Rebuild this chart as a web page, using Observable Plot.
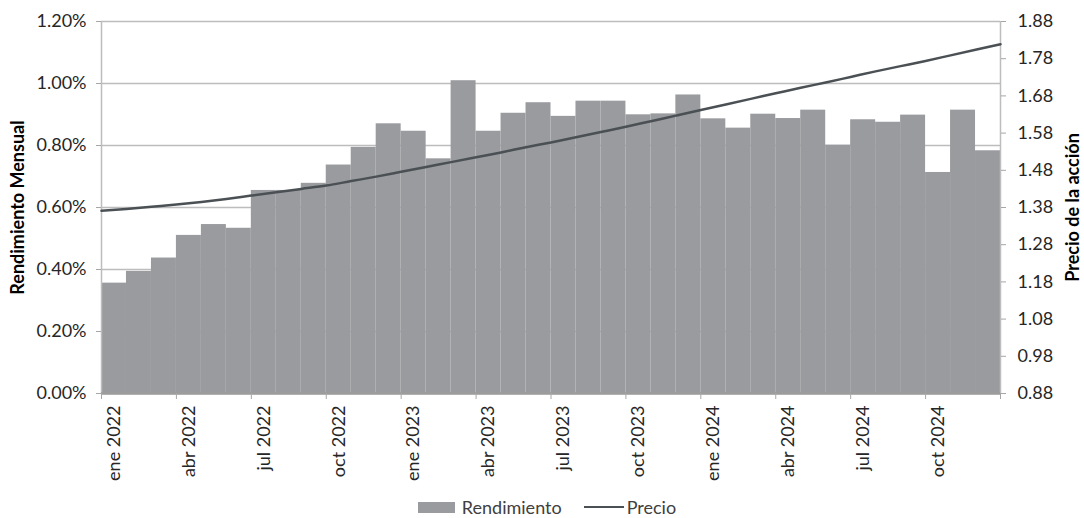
<!DOCTYPE html>
<html>
<head>
<meta charset="utf-8">
<script src="https://cdn.jsdelivr.net/npm/d3@7"></script>
<script src="https://cdn.jsdelivr.net/npm/@observablehq/plot@0.6"></script>
<style>
  body { margin: 0; background: #fff; font-family: Lato, "Noto Sans", sans-serif; }
  #wrap { position: relative; width: 1084px; }
  #chart { height: 496px; overflow: visible; }
  #chart svg { display: block; }
  #legend { width: 1084px; height: 22px; line-height: 22px;
            display: flex; justify-content: center; align-items: center;
            font: 18px/22px Lato, sans-serif; color: #404040; padding-left: 10px; box-sizing: border-box; }
  .sw-bar { display: inline-block; width: 37px; height: 11px; background: #999b9e; margin-right: 7px; }
  .sw-line { display: inline-block; width: 40px; height: 2.5px; background: #4a5054; margin: 0 3px 0 22px; }
</style>
</head>
<body>
<div id="wrap">
  <div id="chart"></div>
  <div id="legend"><span class="sw-bar"></span><span>Rendimiento</span><span class="sw-line"></span><span>Precio</span></div>
</div>
<script>
// Month categories
const months = [
  "ene 2022","feb 2022","mar 2022","abr 2022","may 2022","jun 2022",
  "jul 2022","ago 2022","sep 2022","oct 2022","nov 2022","dic 2022",
  "ene 2023","feb 2023","mar 2023","abr 2023","may 2023","jun 2023",
  "jul 2023","ago 2023","sep 2023","oct 2023","nov 2023","dic 2023",
  "ene 2024","feb 2024","mar 2024","abr 2024","may 2024","jun 2024",
  "jul 2024","ago 2024","sep 2024","oct 2024","nov 2024","dic 2024"
];
// Rendimiento mensual (%)
const rendimiento = [
  0.356, 0.394, 0.437, 0.510, 0.545, 0.533,
  0.655, 0.655, 0.678, 0.737, 0.794, 0.870,
  0.846, 0.757, 1.009, 0.846, 0.904, 0.938,
  0.894, 0.943, 0.943, 0.899, 0.902, 0.963,
  0.886, 0.856, 0.901, 0.887, 0.914, 0.801,
  0.883, 0.875, 0.898, 0.713, 0.914, 0.783
];
// Precio de la acción at month boundaries (ene 2022 ... ene 2025)
const precio = [
  1.371, 1.376, 1.382, 1.388, 1.395, 1.403, 1.412, 1.421, 1.430, 1.439,
  1.451, 1.463, 1.476, 1.489, 1.502, 1.515, 1.528, 1.542, 1.555, 1.569,
  1.583, 1.597, 1.612, 1.627, 1.642, 1.657, 1.672, 1.687, 1.702, 1.716,
  1.731, 1.746, 1.760, 1.774, 1.789, 1.804, 1.819
];
// Tick values
const leftTicks = [0, 0.2, 0.4, 0.6, 0.8, 1.0, 1.2];
const priceTicks = [0.88, 0.98, 1.08, 1.18, 1.28, 1.38, 1.48, 1.58, 1.68, 1.78, 1.88];
const xTickBoundaries = [0, 3, 6, 9, 12, 15, 18, 21, 24, 27, 30, 33, 36];
const xLabelIdx = [0, 3, 6, 9, 12, 15, 18, 21, 24, 27, 30, 33];

const pMin = 0.88, pMax = 1.88, yMax = 1.2;
const toY = p => (p - pMin) / (pMax - pMin) * yMax;
const fromY = y => y / yMax * (pMax - pMin) + pMin;

const barData = months.map((m, i) => ({ i, m, v: rendimiento[i] }));
const lineData = precio.map((p, i) => ({ i, p }));

const H = 496;
const chart = Plot.plot({
  width: 1084,
  height: H,
  marginLeft: 101,
  marginRight: 84,
  marginTop: 21,
  marginBottom: H - 393,
  x: { type: "linear", domain: [0, 36], label: null },
  y: { domain: [0, yMax], label: null },
  style: { fontFamily: "Lato, sans-serif", fontSize: "18px", color: "#262626", background: "#fff", overflow: "visible" },
  marks: [
    Plot.gridY(leftTicks, { stroke: "#bdbdbd", strokeOpacity: 1, strokeWidth: 1.5 }),
    Plot.rectY(barData, { x1: "i", x2: d => d.i + 1, y: "v", fill: "#999b9e", inset: 0 }),
    Plot.ruleX([0], { stroke: "#bdbdbd", strokeWidth: 1.5 }),
    Plot.ruleX([36], { stroke: "#bdbdbd", strokeWidth: 1.5 }),
    Plot.ruleY([0], { stroke: "#9c9c9c", strokeWidth: 2.5 }),
    Plot.lineY(lineData, { x: "i", y: d => toY(d.p), stroke: "#4a5054", strokeWidth: 2.5, curve: "monotone-x" }),
    Plot.axisY(leftTicks, { anchor: "left", tickSize: 5, tickPadding: 10, stroke: "#a6a6a6", fill: "#262626",
      tickFormat: d => d.toFixed(2) + "%", label: null }),
    Plot.axisY(priceTicks.map(toY), { anchor: "right", tickSize: 5, tickPadding: 12, stroke: "#a6a6a6", fill: "#262626",
      tickFormat: d => fromY(d).toFixed(2), label: null }),
    Plot.axisX(xTickBoundaries, { anchor: "bottom", tickSize: 6, stroke: "#a6a6a6", tickFormat: () => "", label: null }),
    Plot.axisX(xLabelIdx.map(i => i + 0.5), { anchor: "bottom", tickSize: 0, tickPadding: 12, tickRotate: -90,
      fill: "#262626", tickFormat: d => months[Math.floor(d)], label: null }),
    Plot.text(["Rendimiento Mensual"], { frameAnchor: "left", dx: -83, rotate: -90, textAnchor: "middle", fontWeight: "bold", fill: "#000" }),
    Plot.text(["Precio de la acción"], { frameAnchor: "right", dx: 73, rotate: -90, textAnchor: "middle", fontWeight: "bold", fill: "#000" })
  ]
});
document.getElementById("chart").appendChild(chart);
</script>
</body>
</html>
